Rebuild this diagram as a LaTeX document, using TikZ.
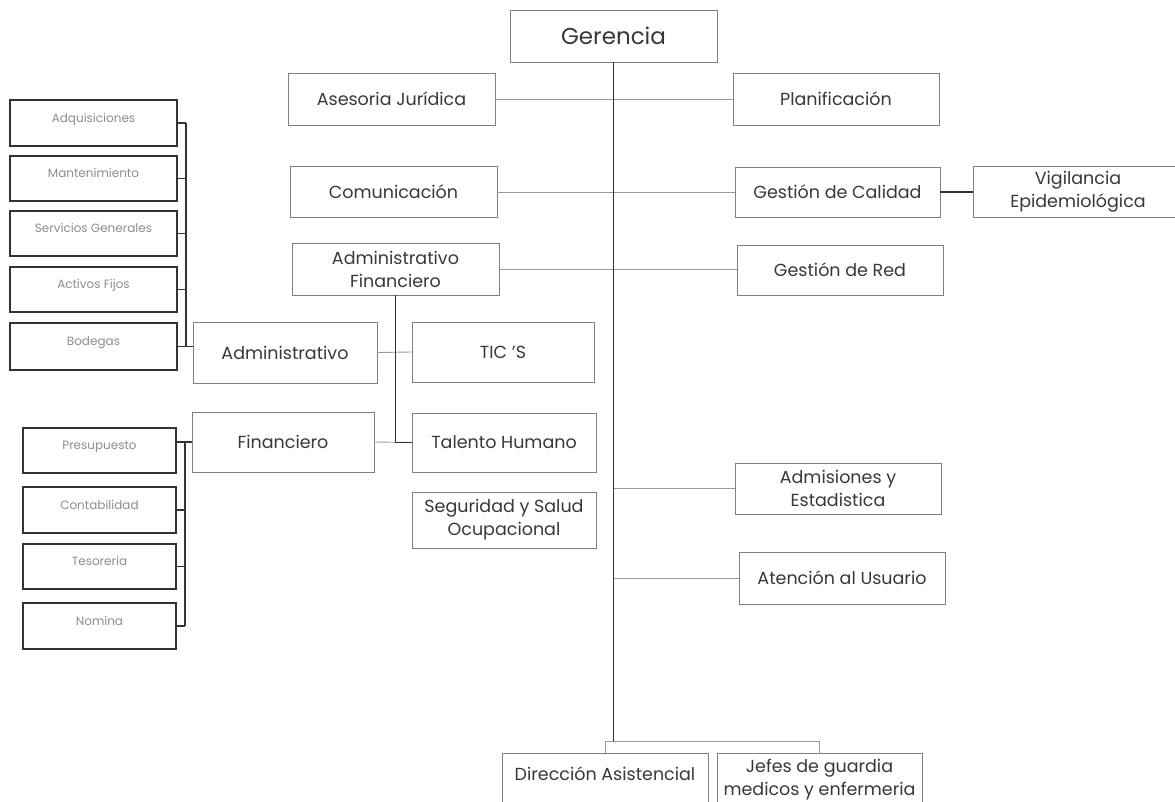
\documentclass[tikz,border=0pt]{standalone}
\usepackage{fontspec}
\setmainfont{Poppins}
\tikzset{
  unit/.style 2 args={draw=black!50, line width=0.9pt, text=black!78, align=center,
    inner sep=0pt, minimum width=#1, minimum height=#2,
    font=\fontsize{17.5}{23}\selectfont},
  subunit/.style 2 args={draw=black!80, line width=1.3pt, text=black!45, align=center,
    inner sep=0pt, minimum width=#1, minimum height=#2, text depth=11pt,
    font=\fontsize{12}{14}\selectfont},
  trunk/.style={draw=black!80, line width=1.6pt},
  link/.style={draw=black!40, line width=0.9pt},
}
\begin{document}
\begin{tikzpicture}[x=1pt,y=-1pt]
\useasboundingbox (0,0) rectangle (1175,802);
% upper units
\node[unit={207pt}{52pt}, font=\fontsize{23}{26}\selectfont] (ger) at (613.5,36) {Gerencia};
\node[unit={207pt}{52pt}] (ase) at (391.5,99) {Asesoria Jurídica};
\node[unit={206pt}{52pt}] (pla) at (836,99) {Planificación};
\node[unit={207pt}{51pt}] (com) at (393.5,192) {Comunicación};
\node[unit={205pt}{50pt}] (cal) at (837.5,192) {Gestión de Calidad};
\node[unit={210pt}{51pt}] (vig) at (1078,192) {Vigilancia\\Epidemiológica};
\node[unit={207pt}{52pt}] (adf) at (395.5,269) {Administrativo\\Financiero};
\node[unit={206pt}{50pt}] (red) at (840,270) {Gestión de Red};
% middle units
\node[unit={184pt}{61pt}] (adm) at (285,352.5) {Administrativo};
\node[unit={182pt}{60pt}] (tic) at (503,352) {TIC 'S};
\node[unit={182pt}{60pt}] (fin) at (283,442) {Financiero};
\node[unit={184pt}{59pt}] (tal) at (504,442.5) {Talento Humano};
\node[unit={184pt}{56pt}] (seg) at (504,520) {Seguridad y Salud\\Ocupacional};
\node[unit={206pt}{51pt}] (ads) at (838,488.5) {Admisiones y\\Estadistica};
\node[unit={206pt}{52pt}] (ate) at (842,578) {Atención al Usuario};
% lower units
\node[unit={206pt}{57pt}, anchor=north, text depth=16pt] (dir) at (605,753) {Dirección Asistencial};
\node[unit={205pt}{57pt}, anchor=north, text depth=10pt] (jef) at (819.5,753) {Jefes de guardia\\medicos y enfermeria};
% administrativo group
\node[subunit={167pt}{46pt}] (adq) at (93.5,123) {Adquisiciones};
\node[subunit={167pt}{45pt}] (man) at (93.5,178.5) {Mantenimiento};
\node[subunit={167pt}{45pt}] (ser) at (93.5,233.5) {Servicios Generales};
\node[subunit={167pt}{45pt}] (act) at (93.5,289.5) {Activos Fijos};
\node[subunit={167pt}{47pt}] (bod) at (93.5,346.5) {Bodegas};
% financiero group
\node[subunit={153pt}{45pt}] (pre) at (99.5,450.5) {Presupuesto};
\node[subunit={153pt}{46pt}] (con) at (99.5,510) {Contabilidad};
\node[subunit={153pt}{45pt}] (tes) at (99.5,566.5) {Tesoreria};
\node[subunit={153pt}{46pt}] (nom) at (99.5,626) {Nomina};
% connectors
\coordinate (bus) at (613,741);
\coordinate (adbus) at (186,0);
\coordinate (finbus) at (185,0);
\draw[link] (ase.east) -- (pla.west);
\draw[link] (com.east) -- (cal.west);
\draw[link] (adf.east) -- (adf.east -| red.west);
\draw[link] (ger.south |- ads.west) -- (ads.west);
\draw[link] (ger.south |- ate.west) -- (ate.west);
\draw[link] (dir.north) -- ++(0,-12) -| (jef.north);
\draw[link] (adm.east) -- (tic.west);
\draw[link] (fin.east) -- (tal.west);
\draw[trunk] (ger.south) -- (ger.south |- bus);
\draw[trunk] (cal.east) -- (vig.west);
\draw[trunk] (adf.south) |- (tal.west);
\foreach \n in {adq,man,ser,act}
  \draw[trunk] (\n.east) -- (\n.east -| adbus);
\draw[trunk] (adq.east -| adbus) -- (bod.east -| adbus);
\draw[trunk] (bod.east) -- (bod.east -| adm.west);
\foreach \n in {con,tes,nom}
  \draw[trunk] (\n.east) -- (\n.east -| finbus);
\draw[trunk] (fin.west -| finbus) -- (nom.east -| finbus);
\draw[trunk] (pre.east |- fin.west) -- (fin.west);
\end{tikzpicture}
\end{document}
